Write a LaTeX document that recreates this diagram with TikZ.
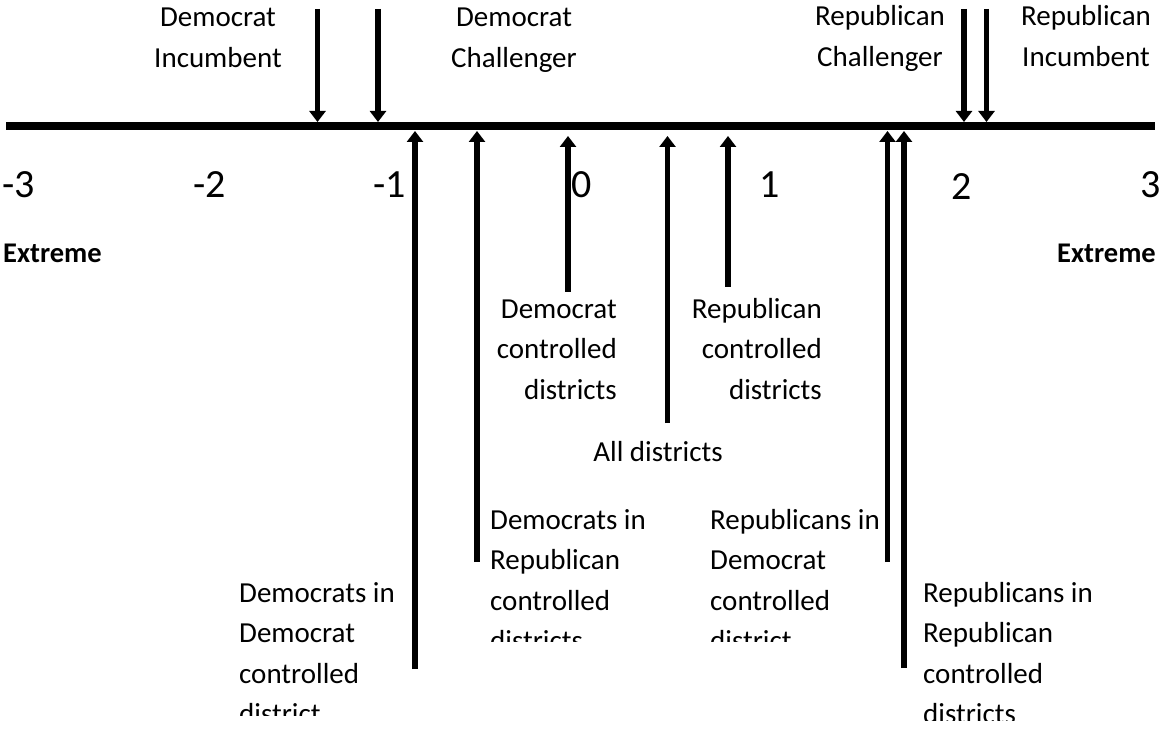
\documentclass[tikz,border=0pt]{standalone}
\usepackage{fontspec}
\setmainfont{Carlito}
\usetikzlibrary{arrows.meta}
\begin{document}
\begin{tikzpicture}[x=1pt,y=-1pt,
  axisline/.style={line width=8pt},
  ptr/.style={line width=5.5pt,-{Triangle[width=16pt,length=11pt]}},
  lbl/.style={font=\fontsize{29}{40.5}\selectfont, inner sep=0pt},
  num/.style={font=\fontsize{40}{48}\selectfont, inner sep=0pt, anchor=base},
  ext/.style={font=\bfseries\fontsize{28.5}{34}\selectfont, inner sep=0pt, anchor=base},
]
\useasboundingbox[fill=white] (0,0) rectangle (1160,730);
% axis
\coordinate (axL) at (6,126);
\coordinate (axR) at (1155,126);
\draw[axisline] (axL) -- (axR);
% downward arrows
\coordinate (di0) at (317.5,9);   \coordinate (di1) at (317.5,122);
\coordinate (dc0) at (378,9);     \coordinate (dc1) at (378,122);
\coordinate (rc0) at (964,9);     \coordinate (rc1) at (964,122);
\coordinate (ri0) at (986.5,9);   \coordinate (ri1) at (986.5,122);
\draw[ptr] (di0) -- (di1);
\draw[ptr] (dc0) -- (dc1);
\draw[ptr] (rc0) -- (rc1);
\draw[ptr] (ri0) -- (ri1);
% upward arrows
\coordinate (dd0) at (415,669);   \coordinate (dd1) at (415,131);
\coordinate (dr0) at (477,562);   \coordinate (dr1) at (477,131);
\coordinate (dcd0) at (568,292);  \coordinate (dcd1) at (568,136);
\coordinate (all0) at (667.5,423);\coordinate (all1) at (667.5,136);
\coordinate (rcd0) at (728,287);  \coordinate (rcd1) at (728,136);
\coordinate (rd0) at (887.5,562); \coordinate (rd1) at (887.5,131);
\coordinate (rr0) at (904,668);   \coordinate (rr1) at (904,131);
\draw[ptr] (dd0) -- (dd1);
\draw[ptr] (dr0) -- (dr1);
\draw[ptr] (dcd0) -- (dcd1);
\draw[ptr] (all0) -- (all1);
\draw[ptr] (rcd0) -- (rcd1);
\draw[ptr] (rd0) -- (rd1);
\draw[ptr] (rr0) -- (rr1);
% top labels (anchor base = baseline of last line)
\node[lbl, align=center, anchor=base] (tDI) at (218,67.5) {Democrat\\Incumbent};
\node[lbl, align=center, anchor=base] (tDC) at (514,67.5) {Democrat\\Challenger};
\node[lbl, align=center, anchor=base] (tRC) at (880,66.5) {Republican\\Challenger};
\node[lbl, align=center, anchor=base] (tRI) at (1086,66.5) {Republican\\Incumbent};
% scale numbers
\node[num] (nm3) at (19,198) {-3};
\node[num] (nm2) at (210,198) {-2};
\node[num] (nm1) at (390,198) {-1};
\node[num] (n0) at (582,198) {0};
\node[num] (n1) at (770,198) {1};
\node[num] (n2) at (961.5,200) {2};
\node[num] (n3) at (1151,198) {3};
% extremes
\node[ext, anchor=base west] (exL) at (3,263) {Extreme};
\node[ext, anchor=base east] (exR) at (1156,263) {Extreme};
% middle labels
\node[lbl, align=right, anchor=base east] (mD) at (617,399) {Democrat\\controlled\\districts};
\node[lbl, align=right, anchor=base east] (mR) at (822,399) {Republican\\controlled\\districts};
\node[lbl, anchor=base] (mAll) at (658,461) {All districts};
% bottom labels (clipped boxes)
\begin{scope}
\clip (230,480) rectangle (410,715);
\node[lbl, align=left, anchor=base west] (bDD) at (239,723.5) {Democrats in\\Democrat\\controlled\\district};
\end{scope}
\begin{scope}
\clip (484,480) rectangle (700,641.5);
\node[lbl, align=left, anchor=base west] (bDR) at (490,650.5) {Democrats in\\Republican\\controlled\\districts};
\end{scope}
\begin{scope}
\clip (704,480) rectangle (884,641.5);
\node[lbl, align=left, anchor=base west] (bRD) at (710,650.5) {Republicans in\\Democrat\\controlled\\district};
\end{scope}
\begin{scope}
\clip (915,480) rectangle (1160,720);
\node[lbl, align=left, anchor=base west] (bRR) at (923,723.5) {Republicans in\\Republican\\controlled\\districts};
\end{scope}
\end{tikzpicture}
\end{document}
